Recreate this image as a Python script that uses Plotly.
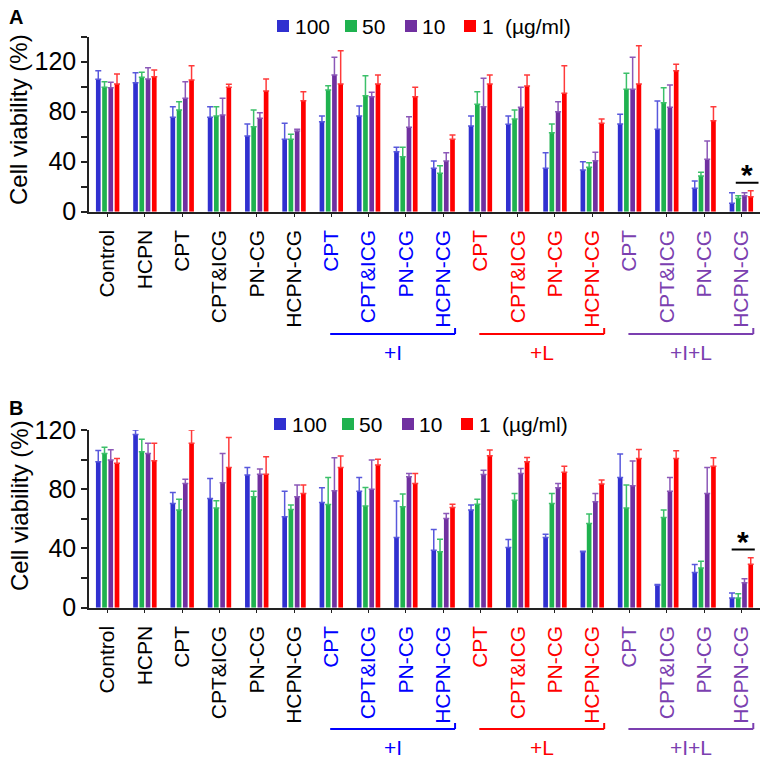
import plotly.graph_objects as go

W, H = 769, 762

categories = ["Control", "HCPN", "CPT", "CPT&ICG", "PN-CG", "HCPN-CG",
              "CPT", "CPT&ICG", "PN-CG", "HCPN-CG",
              "CPT", "CPT&ICG", "PN-CG", "HCPN-CG",
              "CPT", "CPT&ICG", "PN-CG", "HCPN-CG"]
category_set = ["none"] * 6 + ["+I"] * 4 + ["+L"] * 4 + ["+I+L"] * 4
treatment_groups = ["+I", "+L", "+I+L"]
concentrations = ["100", "50", "10", "1"]
unit_label = "(µg/ml)"
y_title = "Cell viability (%)"
panel_names = ["A", "B"]

# Panel A: mean and upper SD for each concentration
a_100 = [105.9, 103.2, 75.5, 75.5, 60.5, 57.9, 72.0, 76.5, 48.0, 34.7, 68.5, 69.9, 34.7, 33.3, 70.1, 65.9, 18.7, 6.7]
a_50 = [99.5, 107.5, 81.3, 76.5, 68.0, 57.9, 97.3, 92.8, 44.0, 30.7, 85.9, 74.1, 63.2, 35.5, 97.9, 87.2, 28.5, 10.7]
a_10 = [99.2, 106.1, 90.7, 77.3, 74.7, 64.5, 109.3, 92.0, 67.5, 40.5, 84.0, 83.5, 80.0, 40.8, 97.9, 83.5, 41.9, 12.8]
a_1 = [102.1, 108.0, 105.3, 99.5, 96.5, 88.8, 102.1, 102.1, 92.0, 57.9, 102.1, 100.5, 94.7, 70.7, 102.1, 112.8, 72.8, 12.0]
a_100_sd = [6.9, 8.0, 8.5, 8.5, 9.6, 12.8, 4.5, 8.0, 3.5, 5.8, 8.0, 6.6, 12.5, 6.7, 7.8, 22.6, 5.8, 8.5]
a_50_sd = [4.5, 4.0, 6.7, 7.5, 13.3, 4.0, 3.5, 16.0, 7.5, 6.1, 10.1, 7.2, 6.9, 3.7, 12.8, 12.0, 3.0, 2.1]
a_10_sd = [4.3, 9.1, 13.3, 13.4, 4.5, 1.4, 14.2, 3.5, 8.5, 6.7, 22.7, 16.0, 8.0, 6.7, 25.6, 17.8, 14.6, 2.4]
a_1_sd = [8.0, 5.3, 11.5, 2.4, 9.6, 7.2, 26.7, 7.2, 7.5, 3.4, 7.2, 8.8, 22.1, 3.4, 30.7, 5.1, 11.2, 4.8]

# Panel B
b_100 = [98.6, 117.0, 70.4, 73.8, 89.6, 61.4, 71.0, 78.7, 47.4, 38.8, 65.9, 40.6, 47.4, 37.7, 88.0, 15.1, 23.7, 6.5]
b_50 = [104.2, 105.3, 65.9, 67.4, 74.9, 66.3, 69.7, 68.6, 68.1, 37.7, 69.9, 72.6, 70.4, 56.8, 67.4, 60.9, 26.8, 6.5]
b_10 = [99.7, 104.2, 83.9, 84.4, 90.2, 74.9, 79.0, 80.0, 88.4, 60.2, 90.0, 90.7, 81.0, 71.5, 82.3, 78.7, 77.1, 16.9]
b_1 = [97.5, 99.3, 111.0, 94.7, 90.2, 77.1, 94.7, 96.3, 83.9, 67.7, 102.6, 98.6, 91.4, 83.5, 100.8, 100.8, 95.6, 29.3]
b_100_sd = [7.6, 3.0, 7.4, 13.5, 5.1, 17.3, 10.0, 9.3, 24.6, 14.0, 3.4, 5.4, 2.2, 0.5, 15.8, 0.5, 5.4, 3.4]
b_50_sd = [4.1, 8.4, 7.4, 4.8, 3.8, 3.0, 18.3, 12.6, 8.6, 8.5, 3.4, 4.5, 6.7, 6.4, 15.4, 5.0, 4.6, 3.0]
b_10_sd = [7.0, 6.8, 2.9, 19.8, 3.4, 7.9, 22.3, 19.7, 2.3, 3.4, 2.9, 3.3, 2.9, 5.6, 16.7, 9.3, 17.6, 2.7]
b_1_sd = [3.3, 11.7, 9.0, 20.3, 11.8, 5.7, 7.7, 3.9, 6.8, 2.2, 3.9, 2.9, 4.2, 2.7, 6.1, 5.2, 5.7, 4.5]

# significance bar heights
sig_a = 23.2
sig_b = 39.3

bar_colors = ["#3030d0", "#1fb24f", "#7030a0", "#ff0000"]
err_colors = ["#5858dc", "#3cc06a", "#8c58b8", "#ff3a3a"]
group_colors = {"none": "#000000", "+I": "#0000ff", "+L": "#ff0000", "+I+L": "#7b3fb0"}

FONT = "Liberation Sans, Arial, sans-serif"

def px_y(y):
    return 1 - y / H

def px_x(x):
    return x / W

fig = go.Figure()
xs = list(range(len(categories)))

panels = [
    ("x", "y", [a_100, a_50, a_10, a_1], [a_100_sd, a_50_sd, a_10_sd, a_1_sd]),
    ("x2", "y2", [b_100, b_50, b_10, b_1], [b_100_sd, b_50_sd, b_10_sd, b_1_sd]),
]
for xa, ya, vals, sds in panels:
    for i, conc in enumerate(concentrations):
        fig.add_trace(go.Bar(
            x=xs, y=vals[i], name=conc, xaxis=xa, yaxis=ya,
            marker=dict(color=bar_colors[i], line=dict(width=0)),
            error_y=dict(type="data", array=sds[i], arrayminus=[0] * len(xs),
                         symmetric=False, color=err_colors[i], thickness=1.5, width=3),
            showlegend=False, cliponaxis=False,
        ))

ticktext = [f'<span style="color:{group_colors[g]}">{c}</span>' for c, g in zip(categories, category_set)]

x_dom = [px_x(89), px_x(760)]
xcommon = dict(range=[-0.5, 17.5], domain=x_dom, showline=True, linecolor="#222", linewidth=1.5,
               ticks="outside", ticklen=4, tickwidth=1.2, tickcolor="#222",
               tickvals=xs, ticktext=ticktext, tickangle=-90, showgrid=False, zeroline=False,
               ticklabelstandoff=4,
               tickfont=dict(family=FONT, size=21, color="black"), automargin=False, fixedrange=True)
ycommon = dict(showline=True, linecolor="#222", linewidth=1.5, ticks="outside", ticklen=6,
               tickwidth=1.5, tickcolor="#222", showgrid=False, zeroline=False,
               tickfont=dict(family=FONT, size=25, color="black"), automargin=False, fixedrange=True)

fig.update_layout(
    width=W, height=H, template="none",
    paper_bgcolor="white", plot_bgcolor="rgba(0,0,0,0)",
    margin=dict(l=0, r=0, t=0, b=0),
    barmode="group", bargap=0.33, bargroupgap=0.25,
    xaxis=dict(**xcommon, anchor="y"),
    xaxis2=dict(**xcommon, anchor="y2"),
    yaxis=dict(**ycommon, anchor="x", domain=[px_y(211.7), px_y(36.7)], range=[0, 140],
               tickvals=[0, 40, 80, 120],
               minor=dict(tickvals=[20, 60, 100, 140], ticks="outside", ticklen=6, tickwidth=1.5, tickcolor="#222")),
    yaxis2=dict(**ycommon, anchor="x2", domain=[px_y(607.7), px_y(430)], range=[0, 120],
                tickvals=[0, 40, 80, 120],
                minor=dict(tickvals=[20, 60, 100], ticks="outside", ticklen=6, tickwidth=1.5, tickcolor="#222")),
    showlegend=False,
)

annotations = []
shapes = []

# panel labels and y titles
for name, ly, ty in [(panel_names[0], 17, 120), (panel_names[1], 408, 506)]:
    annotations.append(dict(text=f"<b>{name}</b>", x=px_x(16), y=px_y(ly), xref="paper", yref="paper",
                            showarrow=False, font=dict(family=FONT, size=20, color="black"),
                            xanchor="center", yanchor="middle"))
    annotations.append(dict(text=y_title, x=px_x(19), y=px_y(ty), xref="paper", yref="paper",
                            showarrow=False, textangle=-90, font=dict(family=FONT, size=24, color="black"),
                            xanchor="center", yanchor="middle"))

# legends (manual, one row per panel)
sq_left = [277, 345, 405, 464]
txt_left = [293, 360, 420, 480]
for ly, dx in [(26, 0), (424, -3)]:
    for i, conc in enumerate(concentrations):
        x0 = sq_left[i] + dx
        shapes.append(dict(type="rect", xref="paper", yref="paper",
                           x0=px_x(x0), x1=px_x(x0 + 12), y0=px_y(ly + 6), y1=px_y(ly - 6),
                           fillcolor=bar_colors[i], line=dict(width=0)))
        annotations.append(dict(text=conc, x=px_x(txt_left[i] + dx), y=px_y(ly), xref="paper", yref="paper",
                                showarrow=False, xanchor="left", yanchor="middle",
                                font=dict(family=FONT, size=21, color="black")))
    annotations.append(dict(text=unit_label, x=px_x(503 + dx), y=px_y(ly), xref="paper", yref="paper",
                            showarrow=False, xanchor="left", yanchor="middle",
                            font=dict(family=FONT, size=21, color="black")))

# treatment group brackets below x axis
for xa, line_y, text_y in [("x", 334, 353), ("x2", 729, 747)]:
    for k, g in enumerate(treatment_groups):
        start = 6 + 4 * k
        x0, x1 = start - 0.03, start + 3 + 0.32
        col = group_colors[g]
        shapes.append(dict(type="line", xref=xa, yref="paper", x0=x0, x1=x1,
                           y0=px_y(line_y), y1=px_y(line_y), line=dict(color=col, width=2)))
        shapes.append(dict(type="line", xref=xa, yref="paper", x0=x1, x1=x1,
                           y0=px_y(line_y), y1=px_y(line_y - 6), line=dict(color=col, width=2)))
        annotations.append(dict(text=g, x=(x0 + x1) / 2, y=px_y(text_y), xref=xa, yref="paper",
                                showarrow=False, xanchor="center", yanchor="middle",
                                font=dict(family=FONT, size=21, color=col)))

# significance marks
last = len(categories) - 1
for xa, ya, yv, dx0, dx1 in [("x", "y", sig_a, -0.15, 0.46), ("x2", "y2", sig_b, -0.26, 0.36)]:
    shapes.append(dict(type="line", xref=xa, yref=ya, x0=last + dx0, x1=last + dx1, y0=yv, y1=yv,
                       line=dict(color="black", width=2)))
    annotations.append(dict(text="<b>*</b>", x=last + (dx0 + dx1) / 2, y=yv, xref=xa, yref=ya,
                            showarrow=False, xanchor="center", yanchor="bottom", yshift=-10,
                            font=dict(family=FONT, size=30, color="black")))

fig.update_layout(annotations=annotations, shapes=shapes)
fig.write_html("out.html", config={"displayModeBar": False},
               post_script="document.body.style.margin='0px';document.body.style.overflow='hidden';")
